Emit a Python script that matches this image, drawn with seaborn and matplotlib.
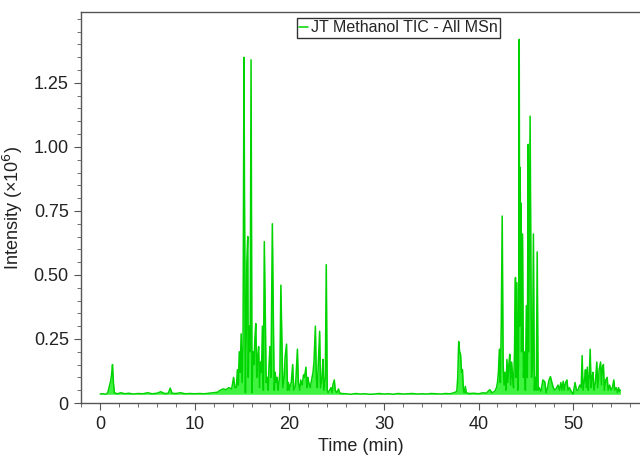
import numpy as np
import pandas as pd
import matplotlib
matplotlib.use("Agg")
import matplotlib.pyplot as plt
import seaborn as sns
from matplotlib.ticker import MultipleLocator, FixedLocator

# time (min) and intensity (x10^6)
time_min = [
    0.0, 0.3, 0.6, 0.8, 1.0, 1.1, 1.2, 1.3, 1.4, 1.5, 1.8, 2.2, 2.6, 3.0, 3.5, 4.0,
    4.5, 5.0, 5.5, 6.0, 6.4, 6.8, 7.2, 7.4, 7.6, 8.0, 8.5, 9.0, 9.5, 10.0, 10.5, 11.0,
    11.5, 12.0, 12.4, 12.7, 13.0, 13.3, 13.6, 13.9, 14.1, 14.25,
    14.4, 14.5, 14.6, 14.7, 14.8, 14.9, 15.0, 15.1, 15.2, 15.25, 15.3, 15.35, 15.45,
    15.5, 15.6, 15.65, 15.75, 15.85, 15.95, 16.05, 16.15, 16.25, 16.35, 16.45, 16.55,
    16.65, 16.75, 16.85, 16.95, 17.05, 17.15, 17.25, 17.35, 17.45, 17.55, 17.65, 17.75,
    17.85, 17.95, 18.05, 18.2, 18.3, 18.4, 18.5, 18.6, 18.7, 18.8, 18.9, 19.0, 19.1,
    19.2, 19.3, 19.45, 19.55, 19.7, 19.8, 19.9, 20.0, 20.1, 20.2, 20.35, 20.45, 20.6,
    20.7, 20.85, 20.95, 21.1, 21.2, 21.35, 21.5, 21.6, 21.75, 21.85, 21.95, 22.05,
    22.2, 22.35, 22.5, 22.6, 22.75, 22.85, 22.95, 23.05, 23.2, 23.3, 23.45, 23.55,
    23.65, 23.8, 23.9, 24.0, 24.1, 24.25, 24.4, 24.5, 24.6, 24.75, 24.85, 25.0, 25.2,
    25.3, 25.5,
    26.0, 26.5, 27.0, 27.5, 28.0, 28.5, 29.0, 29.5, 30.0, 30.5, 31.0, 31.5, 32.0,
    32.5, 33.0, 33.5, 34.0, 34.5, 35.0, 35.5, 36.0, 36.5, 37.0, 37.4, 37.7, 37.8,
    37.9, 38.0, 38.1, 38.2, 38.3, 38.4, 38.5, 38.6, 38.7, 39.0, 39.5, 40.0, 40.5,
    40.8, 41.0, 41.2, 41.4, 41.7, 41.9,
    42.0, 42.1, 42.2, 42.3, 42.4, 42.5, 42.6, 42.7, 42.8, 42.9, 43.0, 43.1, 43.2,
    43.3, 43.4, 43.5, 43.6, 43.7, 43.8, 43.9, 43.95, 44.05, 44.15, 44.25, 44.3, 44.35,
    44.4, 44.45, 44.5, 44.55, 44.65, 44.75, 44.85, 44.95, 45.05, 45.15, 45.25, 45.3,
    45.45, 45.55, 45.6, 45.7, 45.8, 45.9, 46.0, 46.1, 46.2, 46.3, 46.4, 46.6, 46.8,
    47.0, 47.15, 47.3, 47.45, 47.6, 47.75, 47.9, 48.05, 48.2, 48.4, 48.55, 48.7, 48.8,
    48.95, 49.05, 49.2, 49.35, 49.45, 49.6, 49.8, 50.0, 50.2, 50.35, 50.5, 50.7, 50.85,
    50.95, 51.05, 51.2, 51.3, 51.4, 51.5, 51.6, 51.7, 51.8, 51.9, 52.0, 52.1, 52.2,
    52.35, 52.5, 52.6, 52.75, 52.9, 53.0, 53.1, 53.2, 53.3, 53.45, 53.6, 53.7, 53.85,
    54.0, 54.15, 54.3, 54.4, 54.55, 54.7, 54.8, 54.9, 55.0,
]
intensity = [
    0.035, 0.036, 0.034, 0.04, 0.07, 0.085, 0.11, 0.15, 0.08, 0.04, 0.036, 0.04, 0.036,
    0.038, 0.035, 0.037, 0.036, 0.04, 0.036, 0.038, 0.044, 0.037, 0.038, 0.058, 0.038,
    0.037, 0.04, 0.036, 0.037, 0.036, 0.037, 0.036, 0.038, 0.04, 0.042, 0.05, 0.055,
    0.052, 0.06, 0.055, 0.1, 0.06,
    0.06, 0.13, 0.07, 0.2, 0.12, 0.27, 0.08, 0.22, 1.35, 0.86, 0.5, 0.04, 0.3,
    0.55, 0.65, 0.1, 0.3, 0.2, 1.34, 0.04, 0.2, 0.15, 0.25, 0.31, 0.1,
    0.18, 0.22, 0.06, 0.16, 0.12, 0.3, 0.05, 0.63, 0.36, 0.08, 0.1, 0.05,
    0.15, 0.22, 0.1, 0.7, 0.35, 0.05, 0.12, 0.08, 0.1, 0.05, 0.08, 0.12, 0.46,
    0.27, 0.06, 0.1, 0.18, 0.23, 0.05, 0.08, 0.05, 0.07, 0.08, 0.15, 0.05, 0.06,
    0.1, 0.21, 0.08, 0.05, 0.09, 0.07, 0.11, 0.1, 0.14, 0.06, 0.1, 0.08,
    0.06, 0.09, 0.12, 0.16, 0.3, 0.1, 0.06, 0.15, 0.28, 0.06, 0.1, 0.17,
    0.05, 0.1, 0.54, 0.05, 0.04, 0.05, 0.06, 0.04, 0.07, 0.09, 0.05, 0.04, 0.055,
    0.04, 0.037,
    0.036, 0.034, 0.037, 0.035, 0.036, 0.034, 0.035, 0.037, 0.035, 0.036, 0.034, 0.037,
    0.035, 0.036, 0.037, 0.035, 0.036, 0.035, 0.037, 0.036, 0.035, 0.037, 0.036, 0.04,
    0.045, 0.1, 0.24, 0.2, 0.19, 0.12, 0.13, 0.05, 0.04, 0.065, 0.04, 0.037, 0.038,
    0.036, 0.04, 0.038, 0.045, 0.052, 0.04, 0.045, 0.06,
    0.08, 0.12, 0.21, 0.08, 0.3, 0.73, 0.15, 0.07, 0.12, 0.05, 0.17, 0.08, 0.15,
    0.19, 0.07, 0.16, 0.1, 0.06, 0.2, 0.49, 0.1, 0.47, 0.05, 0.2, 1.42, 0.3,
    0.92, 0.5, 0.78, 0.2, 0.66, 0.1, 0.2, 0.05, 0.38, 0.1, 1.01, 0.2,
    1.12, 0.4, 0.1, 0.15, 0.66, 0.05, 0.1, 0.05, 0.59, 0.05, 0.06, 0.045, 0.09,
    0.083, 0.04, 0.06, 0.09, 0.103, 0.08, 0.06, 0.05, 0.055, 0.07, 0.05, 0.08, 0.05,
    0.085, 0.05, 0.08, 0.09, 0.05, 0.06, 0.045, 0.035, 0.08, 0.05, 0.05, 0.07, 0.06,
    0.185, 0.05, 0.09, 0.13, 0.06, 0.14, 0.05, 0.1, 0.21, 0.06, 0.1, 0.12, 0.05,
    0.08, 0.16, 0.06, 0.13, 0.16, 0.07, 0.14, 0.15, 0.05, 0.09, 0.1, 0.05, 0.07,
    0.05, 0.06, 0.09, 0.05, 0.06, 0.04, 0.06, 0.045, 0.05,
]
baseline = 0.034

df = pd.DataFrame({"Time": time_min, "Intensity": intensity})

sns.set_style("ticks")
plt.rcParams["font.family"] = ["Liberation Sans", "DejaVu Sans"]

fig = plt.figure(figsize=(6.4, 4.59), dpi=100)
ax = fig.add_axes([0.127, 0.122, 0.872, 0.852])

green = "#00D400"
ax.fill_between(df["Time"], baseline, df["Intensity"], color="#10F010", alpha=0.8,
                linewidth=0)
sns.lineplot(data=df, x="Time", y="Intensity", ax=ax, color=green, linewidth=1.1,
             estimator=None, sort=False, label="JT Methanol TIC - All MSn")

ax.set_xlim(-2, 57)
ax.set_ylim(0, 1.527)
ax.xaxis.set_major_locator(FixedLocator([0, 10, 20, 30, 40, 50]))
ax.xaxis.set_minor_locator(MultipleLocator(2))
ax.yaxis.set_major_locator(FixedLocator([0, 0.25, 0.5, 0.75, 1.0, 1.25]))
ax.yaxis.set_minor_locator(MultipleLocator(0.05))
ax.set_yticklabels(["0", "0.25", "0.50", "0.75", "1.00", "1.25"])

ax.tick_params(axis="both", which="major", labelsize=13, length=5, color="#555555",
               labelcolor="#222222", pad=4)
ax.tick_params(axis="both", which="minor", length=3, color="#555555")

for side in ["left", "bottom", "top"]:
    ax.spines[side].set_color("#555555")
    ax.spines[side].set_linewidth(1.0)
ax.spines["right"].set_visible(False)

ax.set_xlabel("Time (min)", fontsize=13, color="#222222", labelpad=4)
ax.set_ylabel("Intensity (\u00d710$^6$)", fontsize=13, color="#222222", labelpad=6)

leg = ax.legend(loc="upper center", bbox_to_anchor=(0.568, 0.985), fontsize=11.5,
                frameon=True, fancybox=False, edgecolor="#333333", framealpha=1,
                handlelength=0.6, handletextpad=0.15, borderpad=0.15,
                borderaxespad=0)
leg.get_frame().set_linewidth(1.0)

fig.savefig("out.png", dpi=100)
